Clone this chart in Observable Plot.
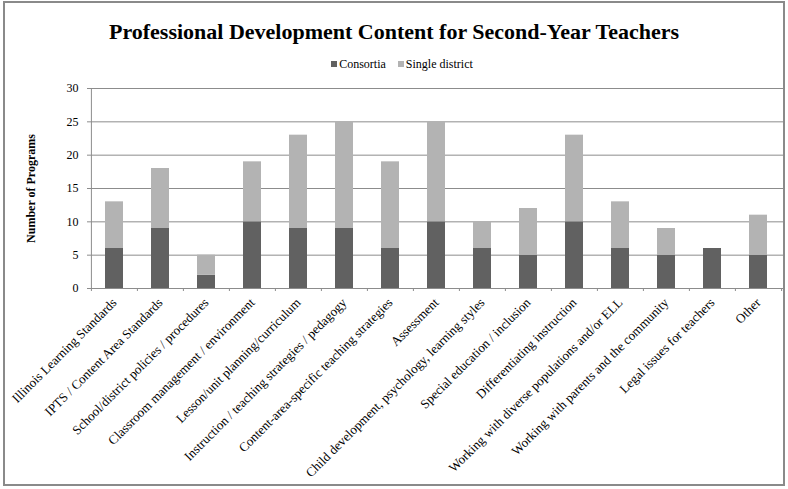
<!DOCTYPE html>
<html>
<head>
<meta charset="utf-8">
<script src="https://cdn.jsdelivr.net/npm/d3@7"></script>
<script src="https://cdn.jsdelivr.net/npm/@observablehq/plot@0.6"></script>
<style>
  html, body { margin: 0; padding: 0; background: #fff; }
  #frame { position: relative; width: 788px; height: 489px; overflow: hidden; font-family: "Liberation Serif", "Times New Roman", serif; }
  #border { position: absolute; left: 3px; top: 1px; width: 782px; height: 485px; border: 2px solid #8a8a8a; box-sizing: border-box; pointer-events: none; }
  #title { position: absolute; left: 0; width: 788px; top: 17px; line-height: 30px; text-align: center; font-weight: bold; font-size: 22px; color: #000; }
  #legend { position: absolute; left: 8px; width: 788px; top: 56px; line-height: 16px; text-align: center; font-size: 12px; color: #000; white-space: nowrap; }
  #legend span.item { display: inline-block; margin: 0 6px; }
  #legend span.sw { display: inline-block; width: 6px; height: 6px; margin-right: 2px; vertical-align: 1px; }
  #chart { position: absolute; left: 0; top: 0; }
</style>
</head>
<body>
<div id="frame">
  <div id="chart"></div>
  <div id="title"></div>
  <div id="legend"></div>
  <div id="border"></div>
</div>
<script>
const titleText = "Professional Development Content for Second-Year Teachers";
const yLabel = "Number of Programs";
const categories = [
  "Illinois Learning Standards",
  "IPTS / Content Area Standards",
  "School/district policies / procedures",
  "Classroom management / environment",
  "Lesson/unit planning/curriculum",
  "Instruction / teaching strategies / pedagogy",
  "Content-area-specific teaching strategies",
  "Assessment",
  "Child development, psychology, learning styles",
  "Special education / inclusion",
  "Differentiating instruction",
  "Working with diverse populations and/or ELL",
  "Working with parents and the community",
  "Legal issues for teachers",
  "Other"
];
const consortia      = [6, 9, 2, 10, 9, 9, 6, 10, 6, 5, 10, 6, 5, 6, 5];
const singleDistrict = [7, 9, 3, 9, 14, 16, 13, 15, 4, 7, 13, 7, 4, 0, 6];
const seriesNames = ["Consortia", "Single district"];
const seriesColors = ["#616161", "#b3b3b3"];
const yTicks = [0, 5, 10, 15, 20, 25, 30];

const data = categories.flatMap((c, i) => [
  {category: c, series: seriesNames[0], value: consortia[i]},
  {category: c, series: seriesNames[1], value: singleDistrict[i]}
]);

document.getElementById("title").textContent = titleText;
const legend = document.getElementById("legend");
seriesNames.forEach((s, i) => {
  const item = document.createElement("span");
  item.className = "item";
  const sw = document.createElement("span");
  sw.className = "sw";
  sw.style.background = seriesColors[i];
  item.appendChild(sw);
  item.appendChild(document.createTextNode(s));
  legend.appendChild(item);
});

const W = 788, H = 489;
const mL = 90, mR = 5, mT = 88, mB = 201;
const step = (W - mL - mR) / categories.length;
const axisColor = "#8c8c8c";
const font = "'Liberation Serif', 'Times New Roman', serif";

const chart = Plot.plot({
  width: W,
  height: H,
  marginLeft: mL,
  marginRight: mR,
  marginTop: mT,
  marginBottom: mB,
  style: {fontFamily: font, fontSize: "12px", color: "#000", background: "transparent"},
  x: {domain: categories, paddingInner: 0.6, paddingOuter: 0.3, label: null},
  y: {domain: [0, 30], ticks: yTicks, label: null},
  color: {domain: seriesNames, range: seriesColors},
  marks: [
    Plot.gridY(yTicks, {stroke: axisColor, strokeOpacity: 1, strokeWidth: 1}),
    Plot.barY(data, {x: "category", y: "value", fill: "series", order: seriesNames}),
    Plot.ruleY([0], {stroke: axisColor, strokeWidth: 1}),
    Plot.ruleX([categories[0]], {x: d => d, dx: -step / 2, y1: 0, y2: 30, stroke: axisColor}),
    Plot.ruleX(categories, {x: d => d, dx: -step / 2, y1: 0, y2: -0.45, stroke: axisColor}),
    Plot.ruleX([categories[categories.length - 1]], {x: d => d, dx: step / 2, y1: 0, y2: -0.45, stroke: axisColor}),
    Plot.axisY(yTicks, {tickSize: 3, tickPadding: 9, stroke: axisColor, fill: "#000", fontSize: 12, label: null}),
    Plot.axisX({tickSize: 0, tickRotate: -45, tickPadding: 12, fontSize: 13, fill: "#000", label: null}),
    Plot.text([yLabel], {frameAnchor: "left", textAnchor: "middle", dx: -59, rotate: -90, fontWeight: "bold", fontSize: 12, fill: "#000"})
  ]
});
document.getElementById("chart").appendChild(chart);
</script>
</body>
</html>
